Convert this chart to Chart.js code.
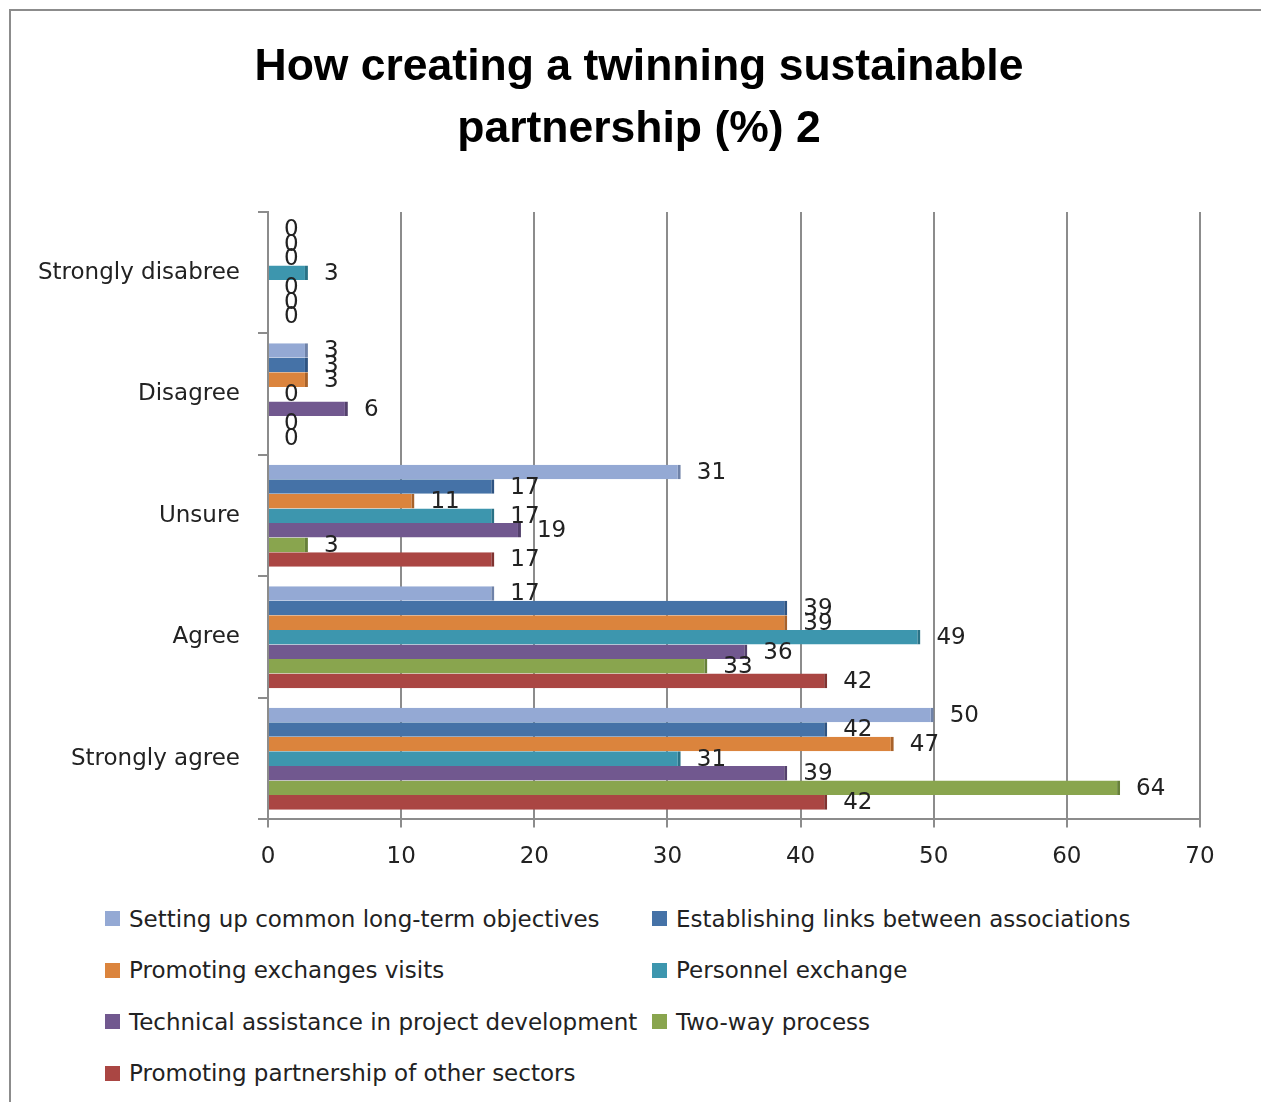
<!DOCTYPE html>
<html>
<head>
<meta charset="utf-8">
<script src="https://cdn.jsdelivr.net/npm/chart.js@4.4.1/dist/chart.umd.min.js"></script>
<style>
    body { margin: 0; background: white; }
    #wrap { position: relative; width: 1261px; height: 1102px; overflow: hidden; }
    #frame { position: absolute; left: 9px; top: 9px; width: 1400px; height: 1200px;
             border-left: 2px solid #8c8c8c; border-top: 2px solid #8c8c8c; }
    #title { position: absolute; left: 239px; top: 34px; width: 800px; text-align: center;
             font-family: "Liberation Sans", sans-serif; font-weight: bold; font-size: 44.5px;
             line-height: 62px; color: #000; }
    #chart { position: absolute; left: 0; top: 0; }
    #legend { position: absolute; left: 105px; top: 893px; width: 1100px;
              display: grid; grid-template-columns: 547px 560px; grid-auto-rows: 51.5px;
              font-family: "DejaVu Sans", sans-serif; font-size: 23px; color: #222; }
    .item { display: flex; align-items: center; white-space: nowrap; }
    .box { width: 15px; height: 15px; margin-right: 9px; }
</style>
</head>
<body>
<div id="wrap">
    <div id="frame"></div>
    <canvas id="chart" width="1261" height="887"></canvas>
    <div id="title">How creating a twinning sustainable<br>partnership (%) 2</div>
    <div id="legend"></div>
</div>
<script>
const categories = ['Strongly disabree', 'Disagree', 'Unsure', 'Agree', 'Strongly agree'];

const seriesNames = [
    'Setting up common long-term objectives',
    'Establishing links between associations',
    'Promoting exchanges visits',
    'Personnel exchange',
    'Technical assistance in project development',
    'Two-way process',
    'Promoting partnership of other sectors'
];

const colors = ['#94a9d4', '#4572a7', '#db843d', '#3d96ae', '#71588f', '#89a54e', '#aa4643'];
const sideColors = ['#6f82a8', '#2f5482', '#a8622a', '#2a7286', '#53406b', '#67803a', '#803331'];

const longTerm     = [0, 3, 31, 17, 50];
const links        = [0, 3, 17, 39, 42];
const visits       = [0, 3, 11, 39, 47];
const personnel    = [3, 0, 17, 49, 31];
const technical    = [0, 6, 19, 36, 39];
const twoWay       = [0, 0, 3, 33, 64];
const otherSectors = [0, 0, 17, 42, 42];

const xTicks = [0, 10, 20, 30, 40, 50, 60, 70];

const values = [longTerm, links, visits, personnel, technical, twoWay, otherSectors];

const textFont = '"DejaVu Sans", sans-serif';

// value labels next to the end of each bar
const barValues = {
    id: 'barValues',
    afterDatasetsDraw(chart) {
        const ctx = chart.ctx;
        ctx.save();
        ctx.font = '23px ' + textFont;
        ctx.fillStyle = '#222';
        ctx.textAlign = 'left';
        ctx.textBaseline = 'middle';
        chart.data.datasets.forEach((ds, i) => {
            chart.getDatasetMeta(i).data.forEach((bar, j) => {
                ctx.fillText(String(ds.data[j]), bar.x + 16, bar.y + 1);
            });
        });
        ctx.restore();
    }
};

new Chart(document.getElementById('chart'), {
    type: 'bar',
    data: {
        labels: categories,
        datasets: values.map((v, i) => ({
            label: seriesNames[i],
            data: v,
            backgroundColor: colors[i],
            borderColor: sideColors[i],
            borderWidth: { right: 3, top: 0, bottom: 0, left: 0 },
            borderSkipped: false,
            categoryPercentage: 0.84,
            barPercentage: 1.0
        }))
    },
    options: {
        indexAxis: 'y',
        responsive: false,
        animation: false,
        layout: { padding: { left: 0, right: 61, top: 212, bottom: 0 } },
        plugins: {
            legend: { display: false },
            tooltip: { enabled: false }
        },
        scales: {
            x: {
                min: 0,
                max: 70,
                afterBuildTicks: (scale) => { scale.ticks = xTicks.map(v => ({ value: v })); },
                grid: { color: '#8c8c8c', lineWidth: 2, tickLength: 8 },
                border: { color: '#8c8c8c', width: 2 },
                ticks: { color: '#222', font: { family: textFont, size: 23 }, padding: 16 }
            },
            y: {
                afterFit: (scale) => { scale.width = 268; },
                grid: { display: true, drawOnChartArea: false, offset: true, color: '#8c8c8c', lineWidth: 2, tickLength: 10 },
                border: { color: '#8c8c8c', width: 2 },
                ticks: { color: '#222', font: { family: textFont, size: 23 }, padding: 18 }
            }
        }
    },
    plugins: [barValues]
});

const legend = document.getElementById('legend');
seriesNames.forEach((name, i) => {
    const item = document.createElement('div');
    item.className = 'item';
    const box = document.createElement('span');
    box.className = 'box';
    box.style.background = colors[i];
    item.appendChild(box);
    item.appendChild(document.createTextNode(name));
    legend.appendChild(item);
});
</script>
</body>
</html>
